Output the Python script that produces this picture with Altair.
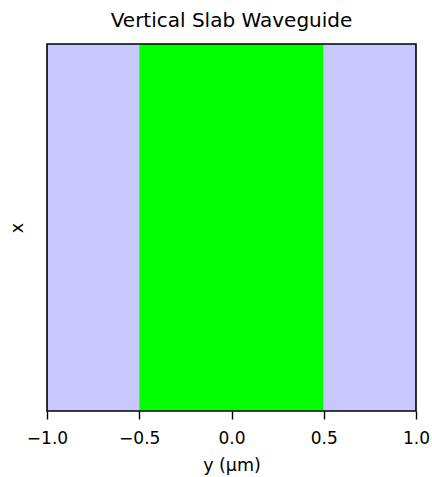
import altair as alt
import pandas as pd

regions = ["cladding_left", "core", "cladding_right"]
y_start = [-1.0, -0.5, 0.5]
y_end = [-0.5, 0.5, 1.0]
colors = ["#c8c8ff", "#00ff00", "#c8c8ff"]
x_low = [0.0, 0.0, 0.0]
x_high = [1.0, 1.0, 1.0]
tick_values = [-1.0, -0.5, 0.0, 0.5, 1.0]

df = pd.DataFrame({
    "region": regions, "y0": y_start, "y1": y_end,
    "color": colors, "xl": x_low, "xh": x_high,
})
frame = pd.DataFrame({"y0": [-1.0], "y1": [1.0], "xl": [0.0], "xh": [1.0]})

font = "DejaVu Sans"
xscale = alt.Scale(domain=[-1, 1], nice=False, zero=False)
yscale = alt.Scale(domain=[0, 1], nice=False)

rects = alt.Chart(df).mark_rect().encode(
    x=alt.X("y0:Q", scale=xscale,
            axis=alt.Axis(values=tick_values, format=".1f",
                          labelExpr="replace(datum.label, '-', '−')",
                          labelFlush=False, labelOverlap=False,
                          title="y (μm)", grid=False, domain=False,
                          tickColor="black", tickSize=8, tickWidth=1.4,
                          labelFontSize=17, labelColor="black", labelFont=font,
                          labelPadding=11, titleFontSize=17.5, titleFont=font,
                          titleFontWeight="normal", titleColor="black",
                          titlePadding=10)),
    x2="y1:Q",
    y=alt.Y("xl:Q", scale=yscale,
            axis=alt.Axis(title="x", labels=False, ticks=False, domain=False,
                          grid=False, titleFontSize=17.5, titleFont=font,
                          titleFontWeight="normal", titleColor="black",
                          titlePadding=21)),
    y2="xh:Q",
    color=alt.Color("color:N", scale=None),
)

border = alt.Chart(frame).mark_rect(fill=None, stroke="black", strokeWidth=1.6).encode(
    x=alt.X("y0:Q", scale=xscale),
    x2="y1:Q",
    y=alt.Y("xl:Q", scale=yscale),
    y2="xh:Q",
)

chart = alt.layer(rects, border).properties(
    width=369, height=367,
    title=alt.TitleParams("Vertical Slab Waveguide", fontSize=20, font=font,
                          fontWeight="normal", color="black", offset=12),
    autosize=alt.AutoSizeParams(type="none"),
    padding={"left": 47, "top": 44, "right": 16, "bottom": 66},
).configure(background="white").configure_view(stroke=None)

chart.save("out.html", embed_options={"renderer": "svg", "actions": False})
